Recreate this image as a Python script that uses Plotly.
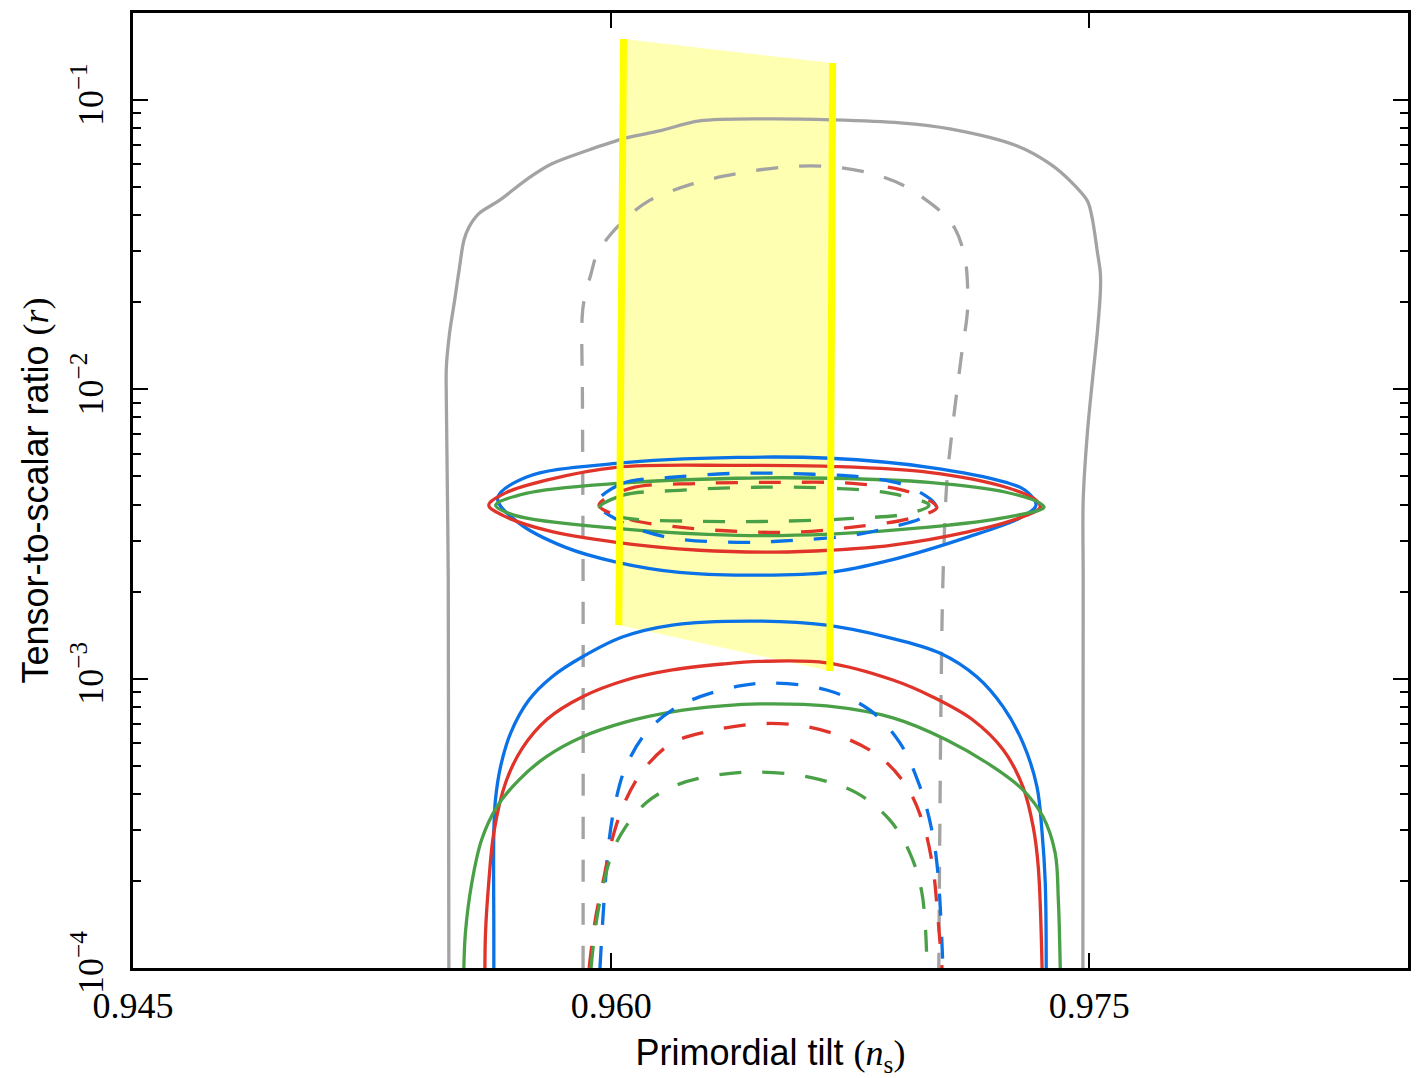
import math
import plotly.graph_objects as go

# ---------------- tick definitions ----------------
x_tickvals = [0.945, 0.960, 0.975]
x_ticktext = ["0.945", "0.960", "0.975"]
y_tickvals = [1e-4, 1e-3, 1e-2, 1e-1]
y_ticktext = ["10<sup>\u22124</sup>", "10<sup>\u22123</sup>", "10<sup>\u22122</sup>", "10<sup>\u22121</sup>"]
y_minor = [k * 10.0 ** e for e in (-4, -3, -2, -1) for k in range(2, 10)]

# ---------------- gray contours ----------------
gray_solid_ns = [0.95491, 0.95489, 0.95483, 0.95483, 0.95493, 0.95509, 0.95524, 0.95538, 0.95553, 0.95585,
                 0.95648, 0.95742, 0.95814, 0.95921, 0.96047, 0.96151, 0.96277, 0.96487, 0.96695, 0.96906,
                 0.97063, 0.97274, 0.97377, 0.97440, 0.97494, 0.97509, 0.97525, 0.97535, 0.97535, 0.97525,
                 0.97509, 0.97494, 0.97481, 0.97481, 0.97480]
gray_solid_r = [1.0e-4, 2.24e-3, 9.17e-3, 1.19e-2, 1.56e-2, 2.03e-2, 2.63e-2, 3.27e-2, 3.62e-2, 4.05e-2,
                4.49e-2, 5.38e-2, 6.02e-2, 6.67e-2, 7.40e-2, 7.82e-2, 8.47e-2, 8.61e-2, 8.54e-2, 8.34e-2,
                7.95e-2, 6.94e-2, 6.02e-2, 5.26e-2, 4.49e-2, 3.92e-2, 3.01e-2, 2.51e-2, 2.19e-2, 1.56e-2,
                1.05e-2, 7.05e-3, 4.14e-3, 2.19e-3, 1.0e-4]

gray_dash_ns = [0.95912, 0.95912, 0.95910, 0.95909, 0.95915, 0.95937, 0.95956, 0.96000, 0.96047, 0.96113,
                0.96255, 0.96393, 0.96550, 0.96695, 0.96821, 0.96921, 0.96978, 0.97041, 0.97079, 0.97110,
                0.97119, 0.97116, 0.97101, 0.97085, 0.97069, 0.97053, 0.97041, 0.97035, 0.97028]
gray_dash_r = [1.0e-4, 2.19e-3, 9.17e-3, 1.77e-2, 2.03e-2, 2.51e-2, 2.94e-2, 3.45e-2, 3.89e-2, 4.45e-2,
               5.13e-2, 5.56e-2, 5.88e-2, 5.88e-2, 5.56e-2, 5.05e-2, 4.60e-2, 4.05e-2, 3.59e-2, 2.85e-2,
               2.03e-2, 1.77e-2, 1.36e-2, 9.91e-3, 7.05e-3, 4.73e-3, 2.19e-3, 8.44e-4, 1.0e-4]

# ---------------- lower arches ----------------
blue_arch_ns = [0.95632, 0.95632, 0.95632, 0.95637, 0.95653, 0.95685, 0.95742, 0.95814, 0.95909, 0.96035,
                0.96192, 0.96434, 0.96676, 0.96865, 0.97031, 0.97148, 0.97230, 0.97292, 0.97336, 0.97352,
                0.97362, 0.97365]
blue_arch_r = [1.0e-4, 1.33e-4, 2.94e-4, 3.81e-4, 4.96e-4, 6.50e-4, 8.44e-4, 1.014e-3, 1.188e-3, 1.393e-3,
               1.532e-3, 1.582e-3, 1.532e-3, 1.393e-3, 1.227e-3, 1.014e-3, 7.99e-4, 6.00e-4, 4.23e-4, 2.94e-4,
               1.97e-4, 1.0e-4]

red_arch_ns = [0.95604, 0.95606, 0.95616, 0.95632, 0.95669, 0.95722, 0.95800, 0.95909, 0.96047, 0.96192,
               0.96349, 0.96465, 0.96676, 0.96884, 0.97009, 0.97135, 0.97230, 0.97292, 0.97324, 0.97340,
               0.97352]
red_arch_r = [1.0e-4, 1.33e-4, 1.97e-4, 2.94e-4, 4.37e-4, 5.77e-4, 7.26e-4, 8.65e-4, 9.90e-4, 1.072e-3,
              1.124e-3, 1.147e-3, 1.135e-3, 9.90e-4, 8.65e-4, 7.20e-4, 5.68e-4, 4.23e-4, 3.08e-4, 2.24e-4,
              1.0e-4]

green_arch_ns = [0.95538, 0.95543, 0.95563, 0.95594, 0.95642, 0.95711, 0.95796, 0.95909, 0.96047, 0.96192,
                 0.96349, 0.96465, 0.96676, 0.96884, 0.97053, 0.97198, 0.97292, 0.97355, 0.97393, 0.97403,
                 0.97409]
green_arch_r = [1.0e-4, 1.33e-4, 1.97e-4, 2.78e-4, 3.61e-4, 4.47e-4, 5.37e-4, 6.29e-4, 7.09e-4, 7.68e-4,
                8.05e-4, 8.18e-4, 8.05e-4, 7.32e-4, 6.14e-4, 4.96e-4, 4.13e-4, 3.33e-4, 2.50e-4, 1.72e-4,
                1.0e-4]

blue_darch_ns = [0.95965, 0.95978, 0.95994, 0.96015, 0.96046, 0.96109, 0.96192, 0.96277, 0.96403,
                 0.96506, 0.96676, 0.96811, 0.96906, 0.96969, 0.97006, 0.97025, 0.97041]
blue_darch_r = [1.0e-4, 1.72e-4, 2.78e-4, 3.81e-4, 4.96e-4, 6.50e-4, 7.80e-4, 8.65e-4, 9.44e-4,
                9.66e-4, 9.14e-4, 7.80e-4, 6.00e-4, 4.23e-4, 3.00e-4, 2.14e-4, 1.0e-4]

red_darch_ns = [0.95931, 0.95952, 0.95978, 0.96003, 0.96046, 0.96109, 0.96192, 0.96299, 0.96456, 0.96601,
                0.96726, 0.96843, 0.96928, 0.96978, 0.97009, 0.97025, 0.97038]
red_darch_r = [1.0e-4, 1.505e-4, 2.07e-4, 2.78e-4, 3.81e-4, 4.96e-4, 6.00e-4, 6.55e-4, 6.98e-4, 6.87e-4,
               6.29e-4, 5.37e-4, 4.23e-4, 3.18e-4, 2.24e-4, 1.505e-4, 1.0e-4]

green_darch_ns = [0.95937, 0.95958, 0.96003, 0.96046, 0.96109, 0.96192, 0.96299, 0.96456, 0.96632,
                  0.96770, 0.96874, 0.96937, 0.96975, 0.96991]
green_darch_r = [1.0e-4, 1.55e-4, 2.50e-4, 3.08e-4, 3.72e-4, 4.23e-4, 4.58e-4, 4.76e-4, 4.54e-4,
                 4.03e-4, 3.25e-4, 2.50e-4, 1.82e-4, 1.0e-4]

# ---------------- upper ellipses ----------------
blue_ell_ns = [0.95644, 0.95733, 0.96016, 0.96396, 0.96686, 0.96997, 0.97239, 0.97299, 0.97333, 0.97286,
               0.97116, 0.96877, 0.96686, 0.96420, 0.96214, 0.96016, 0.95855, 0.95711, 0.95644]
blue_ell_r = [4.20e-3, 4.97e-3, 5.55e-3, 5.82e-3, 5.78e-3, 5.38e-3, 4.77e-3, 4.48e-3, 3.98e-3, 3.61e-3,
              3.08e-3, 2.57e-3, 2.33e-3, 2.28e-3, 2.33e-3, 2.53e-3, 2.85e-3, 3.45e-3, 4.20e-3]

red_ell_ns = [0.95616, 0.95673, 0.95794, 0.96016, 0.96396, 0.96686, 0.96997, 0.97239, 0.97333, 0.97346,
              0.97286, 0.97116, 0.96877, 0.96686, 0.96516, 0.96277, 0.96016, 0.95796, 0.95660, 0.95616]
red_ell_r = [3.98e-3, 4.41e-3, 4.85e-3, 5.38e-3, 5.46e-3, 5.42e-3, 5.17e-3, 4.59e-3, 4.14e-3, 3.91e-3,
             3.61e-3, 3.21e-3, 2.89e-3, 2.78e-3, 2.74e-3, 2.78e-3, 2.96e-3, 3.26e-3, 3.67e-3, 3.98e-3]

green_ell_ns = [0.95638, 0.95733, 0.96016, 0.96396, 0.96686, 0.96997, 0.97239, 0.97346, 0.97358, 0.97239,
                0.96997, 0.96686, 0.96396, 0.96016, 0.95698, 0.95638]
green_ell_r = [3.98e-3, 4.37e-3, 4.73e-3, 4.93e-3, 4.93e-3, 4.77e-3, 4.41e-3, 4.04e-3, 3.91e-3, 3.61e-3,
               3.34e-3, 3.16e-3, 3.13e-3, 3.31e-3, 3.67e-3, 3.98e-3]

blue_dell_ns = [0.95956, 0.96035, 0.96192, 0.96396, 0.96635, 0.96818, 0.96937, 0.97019, 0.96972, 0.96877,
                0.96758, 0.96575, 0.96396, 0.96179, 0.96035, 0.95956]
blue_dell_r = [4.04e-3, 4.73e-3, 4.97e-3, 5.13e-3, 5.09e-3, 4.93e-3, 4.59e-3, 3.94e-3, 3.58e-3, 3.34e-3,
               3.13e-3, 3.01e-3, 2.96e-3, 3.08e-3, 3.47e-3, 4.04e-3]

red_dell_ns = [0.95962, 0.96060, 0.96277, 0.96516, 0.96758, 0.96937, 0.97022, 0.96937, 0.96758, 0.96575,
               0.96396, 0.96214, 0.96047, 0.95962]
red_dell_r = [3.98e-3, 4.55e-3, 4.73e-3, 4.77e-3, 4.73e-3, 4.41e-3, 3.91e-3, 3.58e-3, 3.34e-3, 3.21e-3,
              3.23e-3, 3.34e-3, 3.58e-3, 3.98e-3]

green_dell_ns = [0.95962, 0.96035, 0.96214, 0.96456, 0.96698, 0.96877, 0.96997, 0.96937, 0.96758, 0.96516,
                 0.96277, 0.96035, 0.95962]
green_dell_r = [3.88e-3, 4.30e-3, 4.48e-3, 4.59e-3, 4.55e-3, 4.37e-3, 3.98e-3, 3.73e-3, 3.58e-3, 3.50e-3,
                3.50e-3, 3.61e-3, 3.88e-3]

# ---------------- yellow prediction band ----------------
band_left_ns = [0.96039, 0.96024]
band_left_r = [0.1625, 1.532e-3]
band_right_ns = [0.96695, 0.96686]
band_right_r = [0.1343, 1.063e-3]

GRAY = "#a3a3a3"
BLUE = "#0a72e6"
RED = "#e0342a"
GREEN = "#4aa046"
DASH = "22px,21px"
LW = 3.3

fig = go.Figure()

# band fill (under everything)
fig.add_trace(go.Scatter(
    x=band_left_ns + band_right_ns[::-1] + band_left_ns[:1],
    y=band_left_r + band_right_r[::-1] + band_left_r[:1],
    mode="lines", fill="toself", fillcolor="rgba(255,255,0,0.3)",
    line=dict(width=0, color="rgba(0,0,0,0)"), hoverinfo="skip"))


def add_curve(xs, ys, color, dashed=False, smoothing=1.0):
    fig.add_trace(go.Scatter(
        x=xs, y=ys, mode="lines",
        line=dict(color=color, width=LW, dash=DASH if dashed else "solid",
                  shape="spline", smoothing=smoothing)))


add_curve(gray_solid_ns, gray_solid_r, GRAY, smoothing=0.9)
add_curve(gray_dash_ns, gray_dash_r, GRAY, dashed=True)

add_curve(blue_arch_ns, blue_arch_r, BLUE)
add_curve(red_arch_ns, red_arch_r, RED)
add_curve(green_arch_ns, green_arch_r, GREEN)
add_curve(blue_darch_ns, blue_darch_r, BLUE, dashed=True)
add_curve(red_darch_ns, red_darch_r, RED, dashed=True)
add_curve(green_darch_ns, green_darch_r, GREEN, dashed=True)

add_curve(blue_ell_ns, blue_ell_r, BLUE)
add_curve(red_ell_ns, red_ell_r, RED)
add_curve(green_ell_ns, green_ell_r, GREEN)
add_curve(blue_dell_ns, blue_dell_r, BLUE, dashed=True)
add_curve(red_dell_ns, red_dell_r, RED, dashed=True)
add_curve(green_dell_ns, green_dell_r, GREEN, dashed=True)

# band edges (on top)
for xs, ys in ((band_left_ns, band_left_r), (band_right_ns, band_right_r)):
    fig.add_trace(go.Scatter(x=xs, y=ys, mode="lines",
                             line=dict(color="#ffff00", width=7), hoverinfo="skip"))

fig.update_layout(
    width=1422, height=1078,
    margin=dict(l=133, r=14, t=13, b=110, autoexpand=False),
    plot_bgcolor="white", paper_bgcolor="white",
    showlegend=False,
)

fig.update_xaxes(
    range=[0.945, 0.985], tickmode="array", tickvals=x_tickvals, ticktext=x_ticktext,
    ticks="inside", ticklen=15, tickwidth=1.5, tickcolor="black",
    showline=True, linewidth=3, linecolor="black", mirror="ticks",
    showgrid=False, zeroline=False, ticklabelstandoff=4, automargin=False,
    tickfont=dict(family="Liberation Serif", size=36, color="black"),
    title=dict(text="Primordial tilt <span style='font-family:Liberation Serif'>(<i>n</i><sub>s</sub>)</span>",
               font=dict(family="Liberation Sans", size=36, color="black"), standoff=18),
)
fig.update_yaxes(
    type="log", range=[-4, math.log10(0.2)], tickmode="array", tickvals=y_tickvals, ticktext=y_ticktext,
    ticks="inside", ticklen=15, tickwidth=1.5, tickcolor="black", tickangle=-90,
    minor=dict(tickmode="array", tickvals=y_minor, ticks="inside", ticklen=8, tickwidth=1.5,
               tickcolor="black", showgrid=False),
    showline=True, linewidth=3, linecolor="black", mirror="ticks",
    showgrid=False, zeroline=False, ticklabelstandoff=13, automargin=False,
    tickfont=dict(family="Liberation Serif", size=36, color="black"),
    title=dict(text="Tensor-to-scalar ratio <span style='font-family:Liberation Serif'>(<i>r</i>)</span>",
               font=dict(family="Liberation Sans", size=36, color="black"), standoff=6),
)

fig.write_html("out.html")
